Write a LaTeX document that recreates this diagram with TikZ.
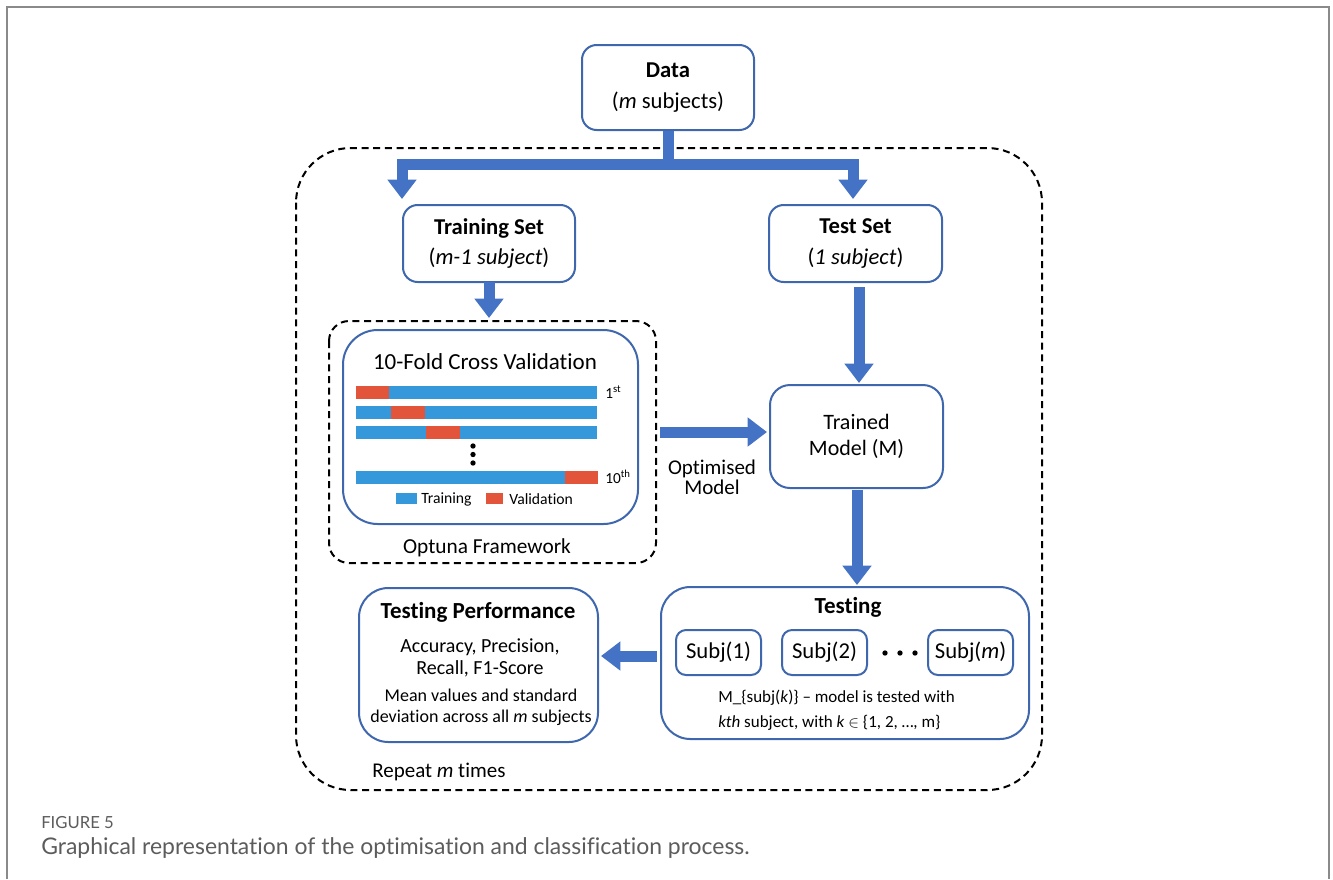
\documentclass[tikz,border=0pt]{standalone}
\usepackage{fontspec}
\setmainfont{Carlito}[Ligatures=NoCommon]
\newfontfamily\capfont{Lato}[Ligatures=NoCommon]
\usetikzlibrary{arrows.meta,calc}
\definecolor{boxblue}{HTML}{3F67AD}
\definecolor{arrowblue}{HTML}{4472C4}
\definecolor{trainblue}{HTML}{3498DB}
\definecolor{valred}{HTML}{E2553A}
\definecolor{framegray}{HTML}{8A8A8A}
\definecolor{capgray}{HTML}{5C5C5C}
\newcommand\fpx[2]{\fontsize{#1}{#2}\selectfont}
\begin{document}
\begin{tikzpicture}[x=0.75pt,y=-0.75pt,
  box/.style={draw=boxblue, line width=1.5pt, fill=white, inner sep=0pt, align=center},
  dashbox/.style={draw=black, line width=1.5pt, dash pattern=on 5.25pt off 3.5pt},
  barrow/.style={draw=arrowblue, line width=8.25pt, line join=miter,
    -{Triangle[width=21pt,length=14.5pt]}},
  txt/.style={inner sep=0pt, text=black}]
\useasboundingbox (0,0) rectangle (1333,879);

% page frame
\draw[framegray, line width=1.5pt] (7,879) -- (7,7) -- (1329,7) -- (1329,879);

% repeated loop region
\draw[dashbox, rounded corners=41pt] (296,148) rectangle (1042,790);
\node[txt, anchor=west, font=\fpx{15.75}{18}] (repeat) at (372,772) {Repeat \textit{m} times};

% data and its split
\node[box, rounded corners=11pt, minimum width=129pt, minimum height=63.75pt, font=\fpx{17}{23.25}]
  (data) at (668,87.5) {\textbf{Data}\\(\textit{m} subjects)};

\node[box, rounded corners=11pt, minimum width=129pt, minimum height=57.75pt, font=\fpx{17}{22.5}]
  (train) at (489,243.5) {\textbf{Training Set}\\(\textit{m-1 subject})};
\node[box, rounded corners=11pt, minimum width=129.75pt, minimum height=57.75pt, font=\fpx{17}{23}]
  (test) at (855.5,243.5) {\textbf{Test Set}\\(\textit{1 subject})};

\coordinate (split) at (668,164);
\coordinate (ltip) at (402,199);
\coordinate (rtip) at (853,199);
\draw[barrow] (data.south) -- (split) -| (ltip);
\draw[barrow] (split) -| (rtip);

% optimisation framework
\draw[dashbox, rounded corners=15pt] (329,321) rectangle (656,563);
\node[txt, font=\fpx{16}{18}] (optuna) at (487,548) {Optuna Framework};
\node[box, rounded corners=26pt, minimum width=221.25pt, minimum height=145.5pt]
  (cv) at (490.5,427) {};
\node[txt, font=\fpx{17.25}{20}] (cvtitle) at (485,362) {10-Fold Cross Validation};

% folds
\fill[trainblue] (356,386) rectangle (597,399);
\fill[valred]    (356,386) rectangle (389,399);
\fill[trainblue] (356,406) rectangle (597,419);
\fill[valred]    (391,406) rectangle (425,419);
\fill[trainblue] (356,425.5) rectangle (597,438.5);
\fill[valred]    (426,425.5) rectangle (460,438.5);
\fill[trainblue] (356,471) rectangle (598,484);
\fill[valred]    (565,471) rectangle (598,484);
\foreach \yy in {446,454.5,463} \fill[black] (473,\yy) circle (2pt);
\node[txt, anchor=west, font=\fpx{11.5}{13}] (first) at (605,392) {1\textsuperscript{st}};
\node[txt, anchor=west, font=\fpx{11.5}{13}] (tenth) at (605,477) {10\textsuperscript{th}};
\fill[trainblue] (396,493) rectangle (417,504);
\node[txt, anchor=west, font=\fpx{11.75}{13}] (legtrain) at (421,499) {Training};
\fill[valred] (486,493) rectangle (503,504);
\node[txt, anchor=west, font=\fpx{11.75}{13}] (legval) at (509,499) {Validation};

% trained model
\node[box, rounded corners=15pt, minimum width=129.75pt, minimum height=77.25pt, font=\fpx{16.5}{19.5}]
  (model) at (856.5,436.5) {Trained\\Model (M)};

\coordinate (trainout) at (489,282);
\coordinate (optin) at (489,318);
\draw[barrow] (trainout) -- (optin);
\coordinate (testout) at (859,287);
\coordinate (modelin) at (859,383);
\draw[barrow] (testout) -- (modelin);
\coordinate (optout) at (660,432);
\coordinate (modelleft) at (767,432);
\draw[barrow] (optout) -- (modelleft);
\node[txt, font=\fpx{15.75}{15}, align=center] (optlabel) at (712,477) {Optimised\\Model};

% testing
\node[box, rounded corners=22pt, minimum width=276pt, minimum height=114pt]
  (testing) at (845,663) {};
\node[txt, font=\fpx{17.25}{20}] (testingtitle) at (848,607) {\textbf{Testing}};
\node[box, rounded corners=7.5pt, minimum width=63.75pt, minimum height=33.75pt, font=\fpx{17}{20}]
  (s1) at (718.5,652.5) {Subj(1)};
\node[box, rounded corners=7.5pt, minimum width=63.75pt, minimum height=33.75pt, font=\fpx{17}{20}]
  (s2) at (824.5,652.5) {Subj(2)};
\node[box, rounded corners=7.5pt, minimum width=63.75pt, minimum height=33.75pt, font=\fpx{17}{20}]
  (sm) at (970.5,652.5) {Subj(\textit{m})};
\foreach \xx in {885,900,915} \fill[black] (\xx,653) circle (2pt);
\node[txt, anchor=west, align=left, font=\fpx{12.75}{18.75}] (testnote) at (718,710.5)
  {M\_\{subj(\textit{k})\} -- model is tested with\\\textit{kth} subject, with \textit{k} $\in$ \{1, 2, …, m\}};

\coordinate (modelout) at (857,490);
\coordinate (testingin) at (857,585);
\draw[barrow] (modelout) -- (testingin);

% performance
\node[box, rounded corners=22pt, minimum width=179.25pt, minimum height=115.5pt]
  (perf) at (478.5,665) {};
\node[txt, font=\fpx{17.25}{20}] (perftitle) at (478,612) {\textbf{Testing Performance}};
\node[txt, align=center, font=\fpx{15}{16.5}] (metrics) at (480,658) {Accuracy, Precision,\\Recall, F1-Score};
\node[txt, align=center, font=\fpx{13.5}{15.75}] (meanstd) at (481,707.5) {Mean values and standard\\deviation across all \textit{m} subjects};

\coordinate (testingout) at (657,656);
\coordinate (perfin) at (601,656);
\draw[barrow] (testingout) -- (perfin);

% caption
\node[txt, anchor=west, text=capgray, font=\capfont\fpx{12.5}{14}] (figlabel) at (41,823) {FIGURE 5};
\node[txt, anchor=west, text=capgray, font=\capfont\fpx{17.2}{19}] (figcap) at (41,848)
  {Graphical representation of the optimisation and classification process.};
\end{tikzpicture}
\end{document}
